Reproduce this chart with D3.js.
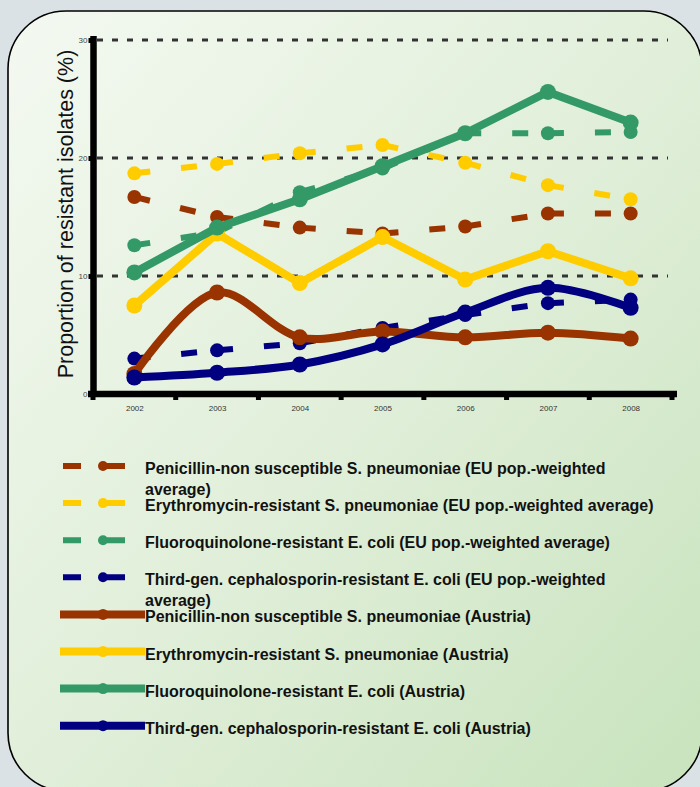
<!DOCTYPE html>
<html>
<head>
<meta charset="utf-8">
<script src="https://cdn.jsdelivr.net/npm/d3@7"></script>
<style>
  html, body { margin: 0; padding: 0; background: #dbe2e5; }
  svg { display: block; }
  text { font-family: "Liberation Sans", Arial, sans-serif; }
</style>
</head>
<body>
<svg id="chart" width="700" height="787"></svg>
<script>
// ---------- data ----------
const years = ["2002", "2003", "2004", "2005", "2006", "2007", "2008"];
const yTickValues = [0, 10, 20, 30];
const yAxisTitle = "Proportion of resistant isolates (%)";

const seriesNames = [
  "Penicillin-non susceptible S. pneumoniae (EU pop.-weighted average)",
  "Erythromycin-resistant S. pneumoniae (EU pop.-weighted average)",
  "Fluoroquinolone-resistant E. coli (EU pop.-weighted average)",
  "Third-gen. cephalosporin-resistant E. coli (EU pop.-weighted average)",
  "Penicillin-non susceptible S. pneumoniae (Austria)",
  "Erythromycin-resistant S. pneumoniae (Austria)",
  "Fluoroquinolone-resistant E. coli (Austria)",
  "Third-gen. cephalosporin-resistant E. coli (Austria)"
];

const penicillinEU   = [16.7, 15.0, 14.1, 13.6, 14.2, 15.3, 15.3];
const erythromycinEU = [18.7, 19.5, 20.4, 21.1, 19.6, 17.7, 16.5];
const fluoroEU       = [12.6, 13.7, 17.1, 19.1, 22.1, 22.1, 22.2];
const cephaloEU      = [3.0, 3.7, 4.3, 5.6, 6.7, 7.7, 8.0];

const penicillinAT   = [1.7, 8.6, 4.8, 5.3, 4.8, 5.2, 4.7];
const erythromycinAT = [7.5, 13.6, 9.4, 13.3, 9.7, 12.1, 9.8];
const fluoroAT       = [10.3, 14.1, 16.5, 19.3, 22.1, 25.6, 23.0];
const cephaloAT      = [1.4, 1.8, 2.5, 4.2, 6.9, 9.0, 7.3];

const seriesValues = [penicillinEU, erythromycinEU, fluoroEU, cephaloEU,
                      penicillinAT, erythromycinAT, fluoroAT, cephaloAT];

// ---------- styles ----------
const palette = ["#993300", "#ffcc00", "#339966", "#000080"];
const smoothAT = [true, false, false, true];

// ---------- drawing ----------
const svg = d3.select("#chart");
const defs = svg.append("defs");
const grad = defs.append("linearGradient").attr("id", "bg")
  .attr("x1", 0).attr("y1", 0).attr("x2", 1).attr("y2", 1);
grad.append("stop").attr("offset", "0%").attr("stop-color", "#f4f9f1");
grad.append("stop").attr("offset", "50%").attr("stop-color", "#e1efda");
grad.append("stop").attr("offset", "100%").attr("stop-color", "#c8e3bd");

svg.append("rect")
  .attr("x", 8).attr("y", 11).attr("width", 694).attr("height", 780)
  .attr("rx", 58).attr("ry", 58)
  .attr("fill", "url(#bg)").attr("stroke", "#000").attr("stroke-width", 1.6);

const x = d3.scalePoint().domain(years).range([93, 672]).padding(0.5);
const xBand = d3.scaleBand().domain(years).range([93, 672]);
const y = d3.scaleLinear().domain([0, 30]).range([394, 40]);

// gridlines
svg.append("g").selectAll("line")
  .data(yTickValues.filter(v => v > 0))
  .join("line")
  .attr("x1", 97).attr("x2", 668)
  .attr("y1", d => y(d)).attr("y2", d => y(d))
  .attr("stroke", "#333").attr("stroke-width", 3)
  .attr("stroke-dasharray", "6,9");

// y axis
const yAxis = svg.append("g").attr("transform", "translate(93.5,0)")
  .call(d3.axisLeft(y).tickValues(yTickValues).tickSize(5).tickPadding(1));
yAxis.select(".domain").remove();
yAxis.selectAll(".tick line").attr("stroke", "#000").attr("stroke-width", 5);
yAxis.selectAll(".tick text").attr("font-size", 8).attr("fill", "#444")
  .attr("font-family", "Liberation Sans, Arial, sans-serif");
svg.append("line")
  .attr("x1", 93.5).attr("x2", 93.5).attr("y1", 36).attr("y2", 397)
  .attr("stroke", "#000").attr("stroke-width", 6.5);

// x axis
const xAxis = svg.append("g").attr("transform", "translate(0,394)")
  .call(d3.axisBottom(x).tickSize(0).tickPadding(11));
xAxis.select(".domain").remove();
xAxis.selectAll(".tick text").attr("font-size", 8).attr("fill", "#333")
  .attr("font-family", "Liberation Sans, Arial, sans-serif");
const bounds = years.map(yr => xBand(yr)).concat([xBand.range()[1]]);
svg.append("g").selectAll("line").data(bounds).join("line")
  .attr("x1", d => d).attr("x2", d => d)
  .attr("y1", 394).attr("y2", 400)
  .attr("stroke", "#000").attr("stroke-width", 5);
svg.append("line")
  .attr("x1", 88).attr("x2", 677).attr("y1", 394).attr("y2", 394)
  .attr("stroke", "#000").attr("stroke-width", 6.5);

// y axis title
svg.append("text")
  .attr("transform", "translate(73,214) rotate(-90)")
  .attr("text-anchor", "middle")
  .attr("font-size", 21.5).attr("fill", "#111")
  .text(yAxisTitle);

const plot = svg.append("g");

// EU series: dashed, restarting each segment
for (let s = 0; s < 4; s++) {
  const vals = seriesValues[s];
  const g = plot.append("g");
  for (let i = 0; i < vals.length - 1; i++) {
    g.append("path")
      .attr("d", d3.line()([[x(years[i]), y(vals[i])], [x(years[i + 1]), y(vals[i + 1])]]))
      .attr("fill", "none").attr("stroke", palette[s])
      .attr("stroke-width", 6).attr("stroke-dasharray", "16,31");
  }
  g.selectAll("circle").data(vals).join("circle")
    .attr("cx", (d, i) => x(years[i])).attr("cy", d => y(d))
    .attr("r", 7).attr("fill", palette[s]);
}

// Austria series: solid
for (let s = 0; s < 4; s++) {
  const vals = seriesValues[s + 4];
  const g = plot.append("g");
  const line = d3.line()
    .x((d, i) => x(years[i])).y(d => y(d))
    .curve(smoothAT[s] ? d3.curveCatmullRom.alpha(0.5) : d3.curveLinear);
  g.append("path").attr("d", line(vals))
    .attr("fill", "none").attr("stroke", palette[s])
    .attr("stroke-width", 8).attr("stroke-linejoin", "round");
  g.selectAll("circle").data(vals).join("circle")
    .attr("cx", (d, i) => x(years[i])).attr("cy", d => y(d))
    .attr("r", 8).attr("fill", palette[s]);
}

// legend
const legend = svg.append("g");
const rowY0 = 466, rowStep = 37.1, maxW = 515;
seriesNames.forEach((name, k) => {
  const cy = rowY0 + k * rowStep;
  const col = palette[k % 4];
  const g = legend.append("g");
  if (k < 4) {
    g.append("line").attr("x1", 63).attr("x2", 145).attr("y1", cy).attr("y2", cy)
      .attr("stroke", col).attr("stroke-width", 6).attr("stroke-dasharray", "18,26");
    g.append("circle").attr("cx", 103).attr("cy", cy).attr("r", 5).attr("fill", col);
  } else {
    g.append("line").attr("x1", 60).attr("x2", 145).attr("y1", cy).attr("y2", cy)
      .attr("stroke", col).attr("stroke-width", 8);
    g.append("circle").attr("cx", 103).attr("cy", cy).attr("r", 5.5).attr("fill", col);
  }
  const t = g.append("text").attr("x", 145).attr("y", cy + 8)
    .attr("font-size", 16).attr("font-weight", "bold").attr("fill", "#111");
  const words = name.split(" ");
  let line = [], tspan = t.append("tspan").attr("x", 145).attr("dy", 0);
  words.forEach(w => {
    line.push(w);
    tspan.text(line.join(" "));
    if (tspan.node().getComputedTextLength() > maxW && line.length > 1) {
      line.pop();
      tspan.text(line.join(" "));
      line = [w];
      tspan = t.append("tspan").attr("x", 145).attr("dy", 21).text(w);
    }
  });
});
</script>
</body>
</html>
